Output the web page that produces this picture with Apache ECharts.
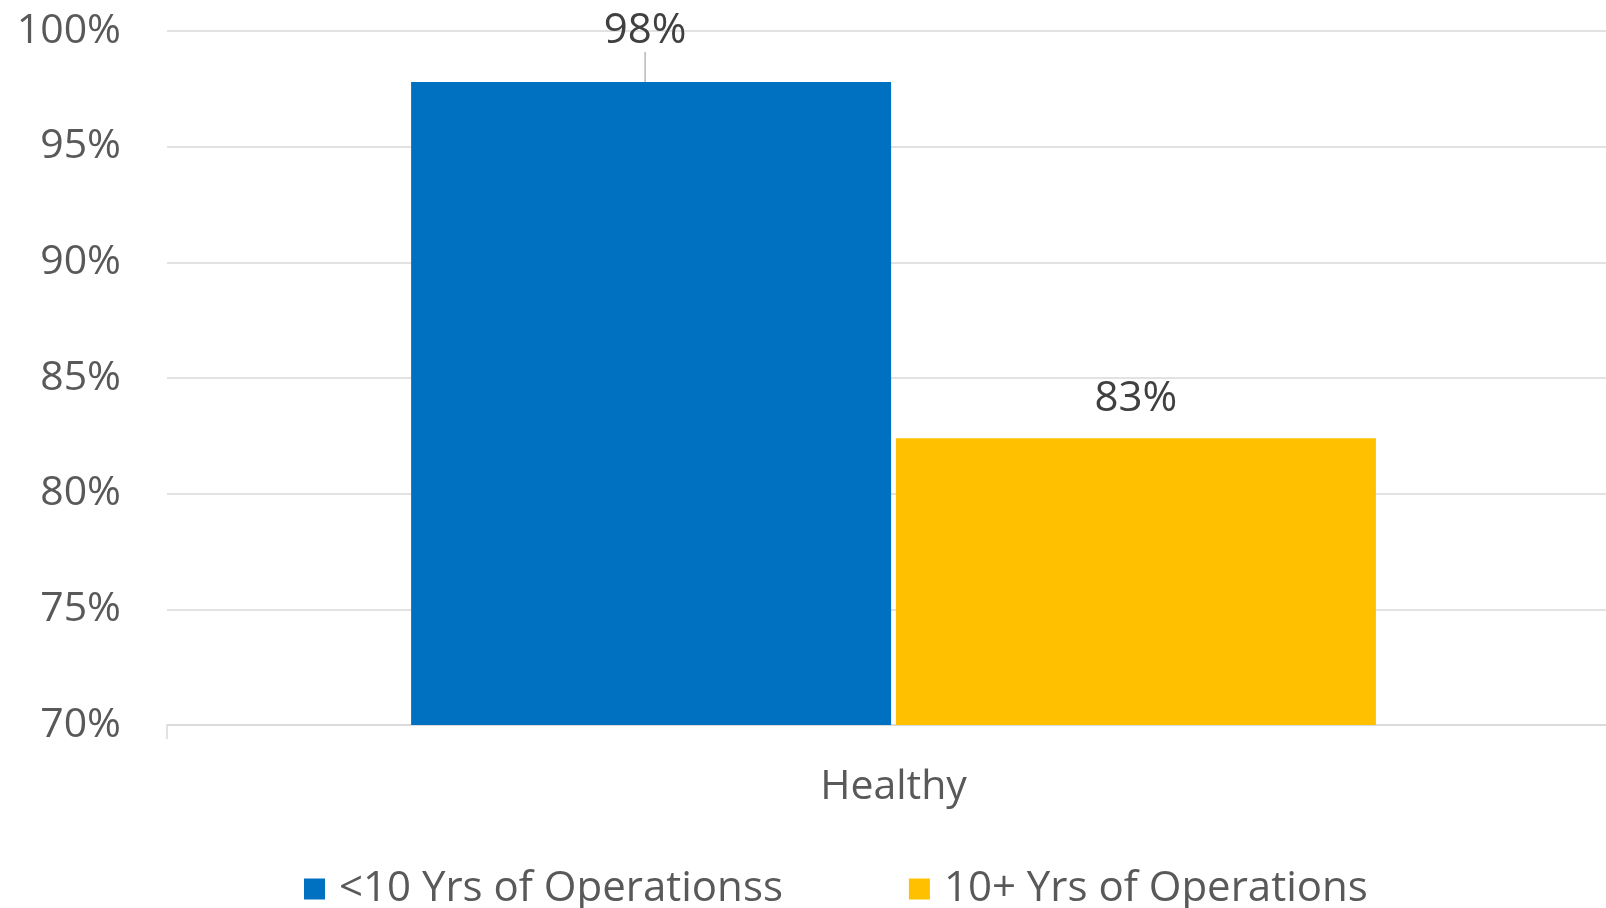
<!DOCTYPE html>
<html>
<head>
<meta charset="utf-8">
<script src="https://cdn.jsdelivr.net/npm/echarts@6/dist/echarts.min.js"></script>
<style>
html,body{margin:0;padding:0;background:#fff;overflow:hidden;width:1606px;height:908px;}
#c{width:1620px;height:908px;}
</style>
</head>
<body>
<div id="c"></div>
<script>
const categories = ['Healthy'];
const seriesNames = ['<10 Yrs of Operationss', '10+ Yrs of Operations'];
const under10 = [97.8];
const over10 = [82.4];
const under10Labels = ['98%'];
const over10Labels = ['83%'];
const yTicks = [70, 75, 80, 85, 90, 95, 100];

const FONT = '"Open Sans", "Noto Sans", sans-serif';
const chart = echarts.init(document.getElementById('c'), null, {renderer: 'canvas'});

chart.setOption({
  animation: false,
  backgroundColor: '#ffffff',
  grid: {left: 167, right: 0, top: 31, bottom: 183, containLabel: false},
  legend: {
    data: seriesNames,
    left: 304, top: 868, padding: 0,
    itemWidth: 21, itemHeight: 21, itemGap: 126,
    icon: 'rect',
    textStyle: {fontFamily: FONT, fontSize: 42, color: '#595959', padding: [0,0,0,9]}
  },
  xAxis: {
    type: 'category',
    data: categories,
    axisLine: {show: true, lineStyle: {color: '#d9d9d9', width: 1.5}},
    axisTick: {show: true, length: 14, alignWithLabel: false, lineStyle: {color: '#d9d9d9', width: 1.5}},
    axisLabel: {fontFamily: FONT, fontSize: 41, color: '#595959', margin: 42}
  },
  yAxis: {
    type: 'value',
    min: yTicks[0], max: yTicks[yTicks.length - 1], interval: 5,
    axisLine: {show: false}, axisTick: {show: false},
    splitLine: {lineStyle: {color: '#d9d9d9', width: 1.5}},
    axisLabel: {fontFamily: FONT, fontSize: 41, color: '#595959', margin: 46, formatter: '{value}%'}
  },
  series: [
    {
      name: seriesNames[0], type: 'bar', data: under10,
      barWidth: 480, barGap: '1%',
      itemStyle: {color: '#0070C0'},
      label: {show: true, position: 'top', distance: 18, fontFamily: FONT, fontSize: 42, color: '#404040',
              formatter: p => under10Labels[p.dataIndex]},
      labelLayout: {dx: -6, dy: -12},
      labelLine: {show: true, lineStyle: {color: '#a6a6a6', width: 1.2}}
    },
    {
      name: seriesNames[1], type: 'bar', data: over10,
      barWidth: 480,
      itemStyle: {color: '#FFC000'},
      label: {show: true, position: 'top', distance: 18, fontFamily: FONT, fontSize: 42, color: '#404040',
              formatter: p => over10Labels[p.dataIndex]}
    }
  ]
});
</script>
</body>
</html>
